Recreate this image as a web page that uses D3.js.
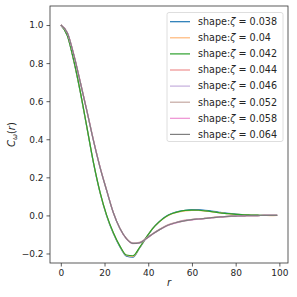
<!DOCTYPE html>
<html>
<head>
<meta charset="utf-8">
<script src="https://cdn.jsdelivr.net/npm/d3@7"></script>
<style>
  body { margin: 0; background: #fff; }
  text { font-family: "DejaVu Sans", sans-serif; fill: #262626; }
</style>
</head>
<body>
<div id="chart"></div>
<script>
// r sample points shared by every series
const rValues = [0, 3, 6, 9, 12, 15, 18, 21, 24, 27, 30, 33, 36, 39, 42, 45, 48, 51, 54, 57, 60, 63, 66, 69, 72, 75, 78, 81, 84, 87, 90, 93, 96, 99];

const zetaLabels = ["0.038", "0.04", "0.042", "0.044", "0.046", "0.052", "0.058", "0.064"];

const c038 = [1.000, 0.944, 0.808, 0.642, 0.457, 0.272, 0.117, -0.003, -0.094, -0.164, -0.214, -0.219, -0.172, -0.119, -0.069, -0.033, -0.006, 0.011, 0.021, 0.027, 0.030, 0.030, 0.027, 0.023, 0.018, 0.013, 0.009, 0.006, 0.004, 0.002, 0.001, 0.000, 0.000, 0.000];
const c040 = [1.000, 0.945, 0.809, 0.644, 0.459, 0.274, 0.119, -0.001, -0.091, -0.161, -0.210, -0.215, -0.171, -0.118, -0.070, -0.035, -0.008, 0.009, 0.018, 0.024, 0.026, 0.026, 0.023, 0.019, 0.015, 0.011, 0.007, 0.005, 0.003, 0.002, 0.001, 0.000, -0.001, 0.000];
const c042 = [1.000, 0.945, 0.810, 0.645, 0.460, 0.275, 0.120, 0.000, -0.090, -0.160, -0.208, -0.212, -0.169, -0.117, -0.069, -0.034, -0.007, 0.010, 0.020, 0.026, 0.028, 0.027, 0.024, 0.020, 0.015, 0.011, 0.008, 0.005, 0.003, 0.002, 0.001, 0.000, 0.000, 0.000];
const c044 = [1.000, 0.958, 0.841, 0.696, 0.546, 0.391, 0.251, 0.131, 0.016, -0.067, -0.121, -0.145, -0.142, -0.121, -0.096, -0.074, -0.055, -0.042, -0.032, -0.025, -0.021, -0.018, -0.015, -0.011, -0.008, -0.006, -0.004, -0.003, -0.002, -0.001, -0.001, 0.000, 0.000, 0.000];
const c046 = [1.000, 0.958, 0.840, 0.695, 0.545, 0.390, 0.250, 0.130, 0.015, -0.068, -0.122, -0.146, -0.143, -0.122, -0.097, -0.075, -0.056, -0.043, -0.033, -0.026, -0.022, -0.019, -0.016, -0.012, -0.009, -0.006, -0.004, -0.003, -0.002, -0.001, -0.001, 0.000, 0.000, 0.000];
const c052 = [1.000, 0.959, 0.842, 0.697, 0.547, 0.392, 0.252, 0.131, 0.016, -0.067, -0.122, -0.147, -0.144, -0.123, -0.098, -0.076, -0.057, -0.044, -0.034, -0.027, -0.022, -0.019, -0.016, -0.012, -0.009, -0.007, -0.005, -0.003, -0.002, -0.001, -0.001, 0.000, 0.000, 0.000];
const c058 = [1.000, 0.959, 0.841, 0.696, 0.546, 0.391, 0.251, 0.130, 0.015, -0.069, -0.123, -0.148, -0.145, -0.124, -0.099, -0.077, -0.058, -0.045, -0.035, -0.028, -0.023, -0.020, -0.017, -0.013, -0.010, -0.007, -0.005, -0.003, -0.002, -0.001, -0.001, 0.000, 0.000, 0.000];
const c064 = [1.000, 0.958, 0.840, 0.695, 0.545, 0.390, 0.250, 0.130, 0.015, -0.068, -0.122, -0.147, -0.144, -0.123, -0.098, -0.076, -0.057, -0.044, -0.034, -0.027, -0.022, -0.019, -0.016, -0.012, -0.009, -0.006, -0.004, -0.003, -0.002, -0.001, -0.001, 0.000, 0.000, 0.000];

const xTicks = [0, 20, 40, 60, 80, 100];
const yTicks = [-0.2, 0.0, 0.2, 0.4, 0.6, 0.8, 1.0];

const seriesValues = [c038, c040, c042, c044, c046, c052, c058, c064];
const colors = ["#1f77b4", "#ffb777", "#2ca02c", "#ee8f8f", "#c5aedd", "#c4a7a1", "#ee8fd2", "#7f7f7f"];

const width = 297, height = 297;
const margin = {left: 50, right: 9, top: 6, bottom: 34};

const svg = d3.select("#chart").append("svg")
    .attr("width", width)
    .attr("height", height);

const x = d3.scaleLinear().domain([-4.95, 103.95]).range([margin.left, width - margin.right]);
const y = d3.scaleLinear().domain([-0.25, 1.1]).range([height - margin.bottom, margin.top]);

const minus = s => s.replace("-", "\u2212");

// axes
const xAxis = svg.append("g")
    .attr("transform", `translate(0, ${height - margin.bottom})`)
    .call(d3.axisBottom(x).tickValues(xTicks).tickSize(3.5).tickPadding(3).tickFormat(d3.format("d")));
const yAxis = svg.append("g")
    .attr("transform", `translate(${margin.left}, 0)`)
    .call(d3.axisLeft(y).tickValues(yTicks).tickSize(3.5).tickPadding(3).tickFormat(d => minus(d3.format(".1f")(d))));

[xAxis, yAxis].forEach(a => {
    a.select(".domain").remove();
    a.selectAll("line").attr("stroke", "#333").attr("stroke-width", 0.8);
    a.selectAll("text").attr("font-size", "9px").attr("fill", "#262626")
        .attr("font-family", "DejaVu Sans, sans-serif");
});

// lines
const line = d3.line()
    .x((d, i) => x(rValues[i]))
    .y(d => y(d))
    .curve(d3.curveMonotoneX);

svg.append("g").selectAll("path")
    .data(seriesValues)
    .join("path")
    .attr("d", d => line(d))
    .attr("fill", "none")
    .attr("stroke", (d, i) => colors[i])
    .attr("stroke-width", 1.2);

// frame
svg.append("rect")
    .attr("x", margin.left).attr("y", margin.top)
    .attr("width", width - margin.left - margin.right)
    .attr("height", height - margin.top - margin.bottom)
    .attr("fill", "none").attr("stroke", "#333").attr("stroke-width", 0.8);

// axis labels
svg.append("text")
    .attr("x", (margin.left + width - margin.right) / 2)
    .attr("y", 286)
    .attr("text-anchor", "middle")
    .attr("font-size", "10px")
    .attr("font-style", "italic")
    .text("r");

const yl = svg.append("text")
    .attr("transform", `translate(15, ${(margin.top + height - margin.bottom) / 2}) rotate(-90)`)
    .attr("text-anchor", "middle")
    .attr("font-size", "10px");
yl.append("tspan").attr("font-style", "italic").text("C");
yl.append("tspan").attr("font-style", "italic").attr("font-size", "7px").attr("dy", 2).text("ω");
yl.append("tspan").attr("dy", -2).text("(");
yl.append("tspan").attr("font-style", "italic").text("r");
yl.append("tspan").text(")");

// legend
const legend = svg.append("g");
legend.append("rect")
    .attr("x", 167).attr("y", 12.5)
    .attr("width", 116).attr("height", 129)
    .attr("rx", 2)
    .attr("fill", "#fff").attr("fill-opacity", 0.8)
    .attr("stroke", "#d6d6d6").attr("stroke-width", 0.8);

const entries = legend.selectAll("g.entry")
    .data(zetaLabels)
    .join("g")
    .attr("class", "entry")
    .attr("transform", (d, i) => `translate(0, ${21.7 + i * 16.1})`);
entries.append("line")
    .attr("x1", 170).attr("x2", 190)
    .attr("stroke", (d, i) => colors[i]).attr("stroke-width", 1.2);
const lt = entries.append("text")
    .attr("x", 198).attr("dy", "0.35em")
    .attr("font-size", "9.6px");
lt.append("tspan").text("shape:");
lt.append("tspan").attr("font-style", "italic").text("ζ");
lt.append("tspan").text(d => " = " + d);
</script>
</body>
</html>
